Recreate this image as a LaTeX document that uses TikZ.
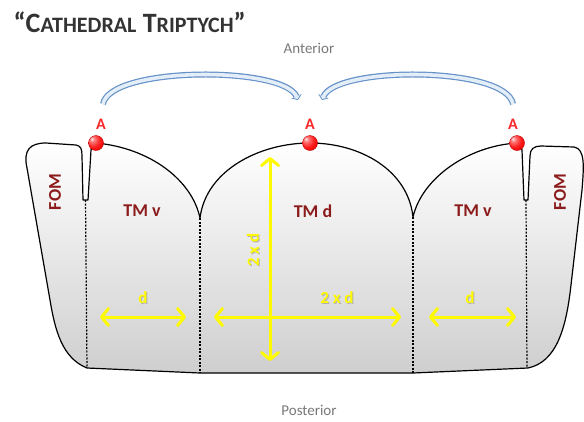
\documentclass[tikz,border=0pt]{standalone}
\usepackage{fontspec}
\setmainfont{Carlito}
\usetikzlibrary{arrows.meta}

\definecolor{zonered}{RGB}{140,28,28}
\definecolor{pointred}{RGB}{250,40,40}
\definecolor{gauge}{RGB}{255,250,0}
\definecolor{bandout}{RGB}{100,145,200}
\definecolor{bandin}{RGB}{228,238,249}
\definecolor{caption}{RGB}{120,120,120}

\pgfdeclareradialshading{redball}{\pgfpoint{-14bp}{14bp}}{color(0bp)=(red!10!white); color(9bp)=(red!55!white); color(24bp)=(red!90!white); color(40bp)=(red!90!black); color(60bp)=(red!70!black); color(80bp)=(red!70!black)}

\tikzset{
  tissue/.style={line width=1.2pt, line join=round},
  cutline/.style={line width=1.2pt, dash pattern=on 2pt off 1.5pt},
  zone/.style={text=zonered, font=\bfseries\fontsize{18}{18}\selectfont},
  pointlabel/.style={text=pointred, font=\bfseries\fontsize{16}{16}\selectfont},
  pointball/.style={circle, inner sep=0pt, minimum size=15pt, shading=redball, draw=red!75!black, line width=0.4pt},
  gaugetext/.style={text=gauge, font=\bfseries\fontsize{17}{17}\selectfont},
  gaugeshade/.style={text=black!30, font=\bfseries\fontsize{17}{17}\selectfont},
  gaugearrow/.style={gauge, line width=3pt, line cap=round,
    {Straight Barb[length=7pt,width=17pt,line cap=round,line join=round]}-{Straight Barb[length=7pt,width=17pt,line cap=round,line join=round]},
    preaction={draw=black!25, transform canvas={shift={(0.9pt,-0.9pt)}}}},
  sidetext/.style={text=caption, font=\fontsize{15}{15}\selectfont}
}

\begin{document}
\begin{tikzpicture}[x=1pt,y=-1pt]
	\useasboundingbox (0,0) rectangle (584,421);
	
	% title
	\node [anchor=base west, text=black!80] (title) at (10,32.5) {\bfseries\fontsize{28}{28}\selectfont “C{\fontsize{22}{22}\selectfont ATHEDRAL} T{\fontsize{22}{22}\selectfont RIPTYCH}”};
	
	% orientation
	\node [sidetext] (anterior) at (309,48) {Anterior};
	\node [sidetext] (posterior) at (309,410) {Posterior};
	
	% outline of the three towers and both FOM
	\draw [tissue, top color=white, bottom color=gray!38]
		(87,368) .. controls (62,358) and (55,330) .. (50,300)
		-- (27,168) .. controls (23,150) and (30,143) .. (46,143)
		-- (76,145) .. controls (81,146) and (82,149) .. (82,156)
		-- (83,200) -- (88,200) -- (91,150)
		.. controls (92,146) and (93,144) .. (96,143)
		.. controls (150,148) and (192,180) .. (200,218)
		.. controls (206,170) and (260,143) .. (310,143)
		.. controls (360,143) and (408,170) .. (413,217)
		.. controls (422,178) and (468,146) .. (517,143)
		.. controls (520,144) and (521,146) .. (522,150)
		-- (524,200) -- (528,200) -- (530,156)
		.. controls (530,149) and (534,146) .. (541,146)
		-- (574,147) .. controls (585,149) and (584,165) .. (582,190)
		-- (571,285) .. controls (566,330) and (556,362) .. (528,368)
		-- (413,373) -- (200,373) -- cycle;
	
	% borders between the parts
	\draw [cutline] (85.5,200) -- (87,368);
	\draw [cutline] (200,218) -- (200,373);
	\draw [cutline] (413,217) -- (413,373);
	\draw [cutline] (526,200) -- (527,368);
	
	% parts
	\node [zone, rotate=90] (fomleft) at (55,192) {FOM};
	\node [zone, rotate=90] (fomright) at (560,192) {FOM};
	\node [zone] (tmvleft) at (142,211) {TM v};
	\node [zone] (tmd) at (313,211) {TM d};
	\node [zone] (tmvright) at (473,211) {TM v};
	
	% points A
	\foreach \bx/\ax/\nm in {96/101/l, 310/310/m, 517/513/r} {
		\node [pointball] (ball\nm) at (\bx,143) {};
		\node [pointlabel] (A\nm) at (\ax,124) {A};
	}
	
	% curved bands
	\coordinate (bandltail) at (103,104);
	\coordinate (bandlhead) at (298,100);
	\coordinate (bandrtail) at (513,104);
	\coordinate (bandrhead) at (322,100);
	\draw [bandout, line width=6pt, -{Triangle[length=4pt,width=11pt]}] (bandltail) .. controls (110,66) and (284,66) .. (bandlhead);
	\draw [bandin, line width=3.6pt, shorten >=1.2pt, -{Triangle[length=2.5pt,width=7pt]}] (bandltail) .. controls (110,66) and (284,66) .. (bandlhead);
	\draw [bandout, line width=6pt, -{Triangle[length=4pt,width=11pt]}] (bandrtail) .. controls (506,66) and (336,66) .. (bandrhead);
	\draw [bandin, line width=3.6pt, shorten >=1.2pt, -{Triangle[length=2.5pt,width=7pt]}] (bandrtail) .. controls (506,66) and (336,66) .. (bandrhead);
	
	% measures
	\coordinate (dl1) at (100,317);
	\coordinate (dl2) at (186,317);
	\coordinate (dm1) at (214,317);
	\coordinate (dm2) at (401,317);
	\coordinate (dr1) at (429,317);
	\coordinate (dr2) at (516,317);
	\coordinate (dv1) at (270,157);
	\coordinate (dv2) at (270,361);
	\draw [gaugearrow] (dl1) -- (dl2);
	\draw [gaugearrow] (dm1) -- (dm2);
	\draw [gaugearrow] (dr1) -- (dr2);
	\draw [gaugearrow] (dv1) -- (dv2);
	\node [gaugeshade] at (144,299) {d};
	\node [gaugetext] (dleft) at (143,298) {d};
	\node [gaugeshade] at (471,299) {d};
	\node [gaugetext] (dright) at (470,298) {d};
	\node [gaugeshade] at (338,299) {2 x d};
	\node [gaugetext] (twodh) at (337,298) {2 x d};
	\node [gaugeshade, rotate=90] at (254,251) {2 x d};
	\node [gaugetext, rotate=90] (twodv) at (253,250) {2 x d};
\end{tikzpicture}
\end{document}
